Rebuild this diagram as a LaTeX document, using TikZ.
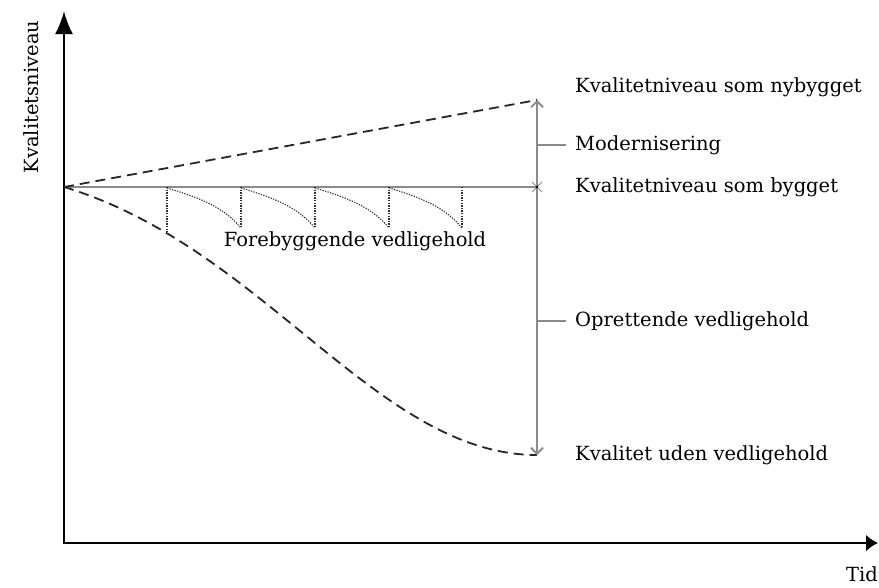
\documentclass[tikz,border=0pt]{standalone}
\usepackage{fontspec}
\setmainfont{DejaVu Serif}
\usetikzlibrary{arrows.meta,shapes.misc}
\definecolor{levelgray}{HTML}{8A8A8A}
\definecolor{dotgray}{HTML}{303030}
\begin{document}
\begin{tikzpicture}[x=1pt,y=-1pt,
  axis/.style={line width=2.4pt,black},
  levelline/.style={line width=1.8pt,levelgray},
  trend/.style={line width=1.8pt,black!85,dash pattern=on 10pt off 6pt},
  repair/.style={line width=1.1pt,dotgray,dash pattern=on 1.3pt off 1.3pt},
  lbl/.style={font=\fontsize{19.5}{23}\selectfont,inner sep=0pt,anchor=west,text=black}]
\useasboundingbox (0,0) rectangle (879,587);

% axes
\coordinate (ytop) at (64,11);
\coordinate (O) at (64,543);
\coordinate (xend) at (878,543);
\draw[axis,{Latex[length=23pt,width=18pt]}-{Latex[length=12pt,width=17pt]}] (ytop) -- (O) -- (xend);
\node[lbl,anchor=center,rotate=90] (ylab) at (31,97) {Kvalitetsniveau};
\node[lbl,anchor=center] (xlab) at (862,574) {Tid};

% key points of the quality levels
\coordinate (S) at (64,187);
\coordinate (top) at (537,100);
\coordinate (built) at (537,187);
\coordinate (bottom) at (537,455);

% quality level as built
\draw[levelline] (S) -- (built);
% upgrade towards new-build level
\draw[trend] (S) -- (top);
% decay without maintenance
\draw[trend] (S) .. controls (264,247) and (377,455) .. (bottom);

% span between the levels
\draw[levelline,{Straight Barb[length=6pt,width=12pt]}-{Straight Barb[length=6pt,width=12pt]}] (top) -- (bottom);
\node[cross out,draw=levelgray,line width=1pt,minimum size=9pt,inner sep=0pt] (bx) at (built) {};
\fill (built) circle (1.4pt);

% preventive maintenance sawtooth
\foreach \x/\y in {167/232,241/228,315/228,389/228,462/228}
  \draw[repair] (\x,187) -- (\x,\y);
\foreach \a/\b in {167/241,241/315,315/389,389/462}
  \draw[repair] (\a,188) .. controls (\a+30,197) and (\b-18,206) .. (\b,228);
\node[lbl,anchor=center] (prev) at (355,241) {Forebyggende vedligehold};

% labels on the right
\node[lbl] (lnew) at (575,87) {Kvalitetniveau som nybygget};
\node[lbl] (lmod) at (575,145) {Modernisering};
\node[lbl] (lbuilt) at (575,187) {Kvalitetniveau som bygget};
\node[lbl] (lfix) at (575,321) {Oprettende vedligehold};
\node[lbl] (lnone) at (575,455) {Kvalitet uden vedligehold};

% ticks from the span to its labels
\draw[levelline,line width=1.3pt] (top |- lmod.west) -- ([xshift=-9pt]lmod.west);
\draw[levelline,line width=1.3pt] (top |- lfix.west) -- ([xshift=-9pt]lfix.west);
\end{tikzpicture}
\end{document}
